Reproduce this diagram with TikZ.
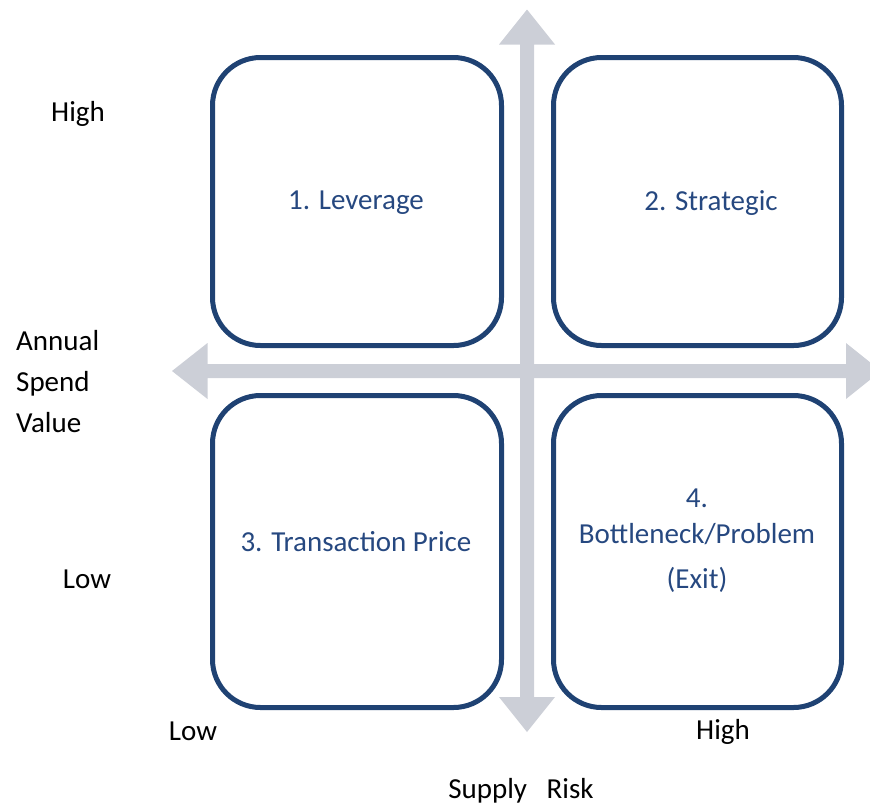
\documentclass[tikz,border=0pt]{standalone}
\usepackage{fontspec}
\setmainfont{Carlito}
\definecolor{boxblue}{RGB}{31,66,115}
\definecolor{textblue}{RGB}{38,72,128}
\definecolor{axisgray}{RGB}{204,207,215}
\begin{document}
\begin{tikzpicture}[x=1pt,y=-1pt]
      \tikzset{quad/.style={draw=boxblue, line width=5pt, rounded corners=48pt, inner sep=0pt},
        lbl/.style={text=textblue, font=\fontsize{29}{36}\selectfont, align=center},
        axislbl/.style={font=\fontsize{29}{41}\selectfont, align=left, inner sep=0pt}}
      \clip (0,0) rectangle (870,807);

      % the two grey axes
      \fill[axisgray] (172,371) -- (207.5,343) -- (207.5,364) -- (846,364) -- (846,343)
        -- (881,371) -- (846,399) -- (846,378) -- (207.5,378) -- (207.5,399) -- cycle;
      \fill[axisgray] (527,9.5) -- (555,44.5) -- (534,44.5) -- (534,697) -- (555,697)
        -- (527,732) -- (499,697) -- (520,697) -- (520,44.5) -- (499,44.5) -- cycle;

      % quadrants
      \node[quad, minimum width=289pt, minimum height=288pt] (lev) at (357,201.5) {};
      \node[quad, minimum width=288pt, minimum height=288pt] (strat) at (697.5,201.5) {};
      \node[quad, minimum width=289pt, minimum height=312pt] (trans) at (357,551.5) {};
      \node[quad, minimum width=288pt, minimum height=312pt] (bottle) at (697.5,551.5) {};

      \node[lbl] (levtext) at (356,203) {1. Leverage};
      \node[lbl] (strattext) at (711,203) {2. Strategic};
      \node[lbl] (transtext) at (356,542) {3. Transaction Price};
      \node[lbl] (bottletext) at (697,541) {4.\\Bottleneck/Problem\\[9pt](Exit)};

      % axis labels
      \node[axislbl] (yhigh) at (78,114) {High};
      \node[axislbl, anchor=west] (ytitle) at (16,382) {Annual\\Spend\\Value};
      \node[axislbl] (ylow) at (87,579) {Low};
      \node[axislbl] (xlow) at (193,731) {Low};
      \node[axislbl] (xhigh) at (723,732) {High};
      \node[axislbl] (xtitle) at (521,791) {Supply~~~Risk};
    \end{tikzpicture}
\end{document}
